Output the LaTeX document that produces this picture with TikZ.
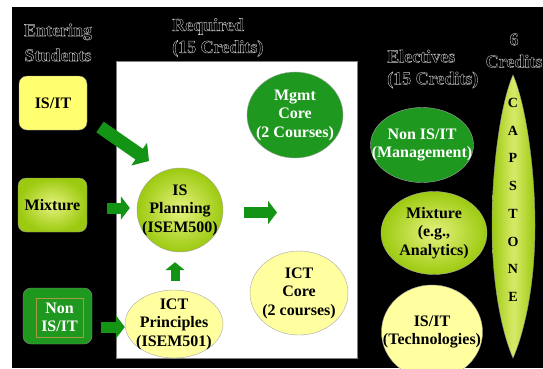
\documentclass[tikz,border=0pt]{standalone}
\usepackage{fontspec}
\setmainfont{Liberation Serif}
\usetikzlibrary{shapes.geometric,arrows.meta}

\definecolor{dkgreen}{HTML}{1E981E}
\definecolor{arrowgreen}{HTML}{149414}
\definecolor{paleyellow}{HTML}{FFFFA0}
\definecolor{brightyellow}{HTML}{FFFF70}
\definecolor{limegreen}{HTML}{9CCA10}
\definecolor{limelight}{HTML}{E6F27E}
\definecolor{frameolive}{HTML}{A89A40}

% outlined (hollow) heading text
\newcommand{\hollow}[1]{\special{pdf:literal direct 1 Tr 0.4 w 0.78 G}#1\special{pdf:literal direct 0 Tr}}

\tikzset{
  entrybox/.style={draw=black!45, rounded corners=8pt, minimum width=68pt, minimum height=54pt,
    font=\bfseries\fontsize{16}{18.5}\selectfont, align=center},
  coursetext/.style={font=\bfseries\fontsize{16}{18.5}\selectfont, align=center, inner sep=0pt},
  course/.style={ellipse, draw=black!35, inner sep=0pt, label={[coursetext]center:{#1}}},
  limeshade/.style={inner color=limelight, outer color=limegreen},
  heading/.style={font=\bfseries\fontsize{18}{22}\selectfont, inner sep=0pt},
  blockarrow/.style={arrowgreen, line width=11pt, -{Triangle[length=9pt,width=23pt]}},
  capletter/.style={font=\bfseries\fontsize{14}{16}\selectfont, inner sep=0pt}
}

\begin{document}
\begin{tikzpicture}[x=1pt,y=-1pt]

\fill[white] (0,0) rectangle (543,368);
\useasboundingbox (0,0) rectangle (543,368);
\clip (0,0) rectangle (543,368);

% background and required panel
\fill[black] (12,7) rectangle (543,368);
\filldraw[fill=white, draw=black!50, line width=0.6pt] (116,61) rectangle (357,358);

% headings
\node[heading, align=center, font=\bfseries\fontsize{18}{25}\selectfont] (entering) at (58,42.5) {\hollow{Entering}\\\hollow{Students}};
\node[heading, align=left, anchor=west] (required) at (172,37.5) {\hollow{Required}\\\hollow{(15 Credits)}};
\node[heading, align=left, anchor=west] (electives) at (387,69) {\hollow{Electives}\\\hollow{(15 Credits)}};
\node[heading, align=center] (sixcred) at (514,50.5) {\hollow{6}\\\hollow{Credits}};

% entering students
\node[entrybox, fill=brightyellow] (isit) at (53,103) {IS/IT};
\node[entrybox, limeshade, minimum width=69pt] (mix) at (52.5,205) {Mixture};
\node[entrybox, fill=dkgreen, minimum width=69pt, minimum height=56pt] (nonit) at (57.5,316) {};
\node[draw=frameolive, line width=0.4pt, text=white, minimum width=47pt, minimum height=39pt,
  font=\bfseries\fontsize{16}{18.5}\selectfont, align=center] (nonitlbl) at (59.5,317.5) {Non\\IS/IT};

% required courses
\node[course={IS\\Planning\\(ISEM500)}, limeshade, minimum width=86pt, minimum height=84pt] (plan) at (180,210) {};
\node[course={ICT\\Principles\\(ISEM501)}, fill=paleyellow, minimum width=98pt, minimum height=68pt] (prin) at (174,324) {};
\node[course={\textcolor{white}{Mgmt}\\\textcolor{white}{Core}\\\textcolor{white}{(2 Courses)}}, fill=dkgreen, minimum width=96pt, minimum height=86pt] (mgmt) at (295,115) {};
\node[course={ICT\\Core\\(2 courses)}, fill=paleyellow, minimum width=98pt, minimum height=84pt] (ictcore) at (299,293) {};

% electives
\node[course={\textcolor{white}{Non IS/IT}\\\textcolor{white}{(Management)}}, fill=dkgreen, minimum width=103pt, minimum height=75pt] (elmgmt) at (422,145) {};
\node[course={Mixture\\(e.g.,\\Analytics)}, limeshade, minimum width=106pt, minimum height=83pt] (elmix) at (434,233) {};
\node[course={\raisebox{0pt}{IS/IT}\\(Technologies)}, fill=paleyellow, minimum width=101pt, minimum height=94pt] (eltech) at (432,332) {};

% capstone
\shade[left color=limegreen, right color=limegreen, middle color=limelight!80!limegreen, draw=black!40, line width=0.4pt]
  (513,75) .. controls (500,105) and (492,170) .. (492,225)
  .. controls (492,295) and (505,340) .. (513,358)
  .. controls (521,340) and (535,295) .. (535,225)
  .. controls (535,170) and (526,105) .. (513,75) -- cycle;
\foreach \ch [count=\i from 0] in {C,A,P,S,T,O,N,E}
  \node[capletter] (cap\i) at (513,{103+27.7*\i}) {\ch};

% arrows
\coordinate (diagfrom) at (100,127);
\coordinate (diagto) at (149,161);
\coordinate (planout) at (277,212.5);
\draw[blockarrow, line width=13pt, -{Triangle[length=12pt,width=27pt]}] (diagfrom) -- (diagto);
\draw[blockarrow, shorten <=20pt, shorten >=7pt] (mix.east |- 0,208) -- (plan.west |- 0,208);
\draw[blockarrow, shorten <=9pt, shorten >=0pt] (nonit.east |- 0,327) -- (prin.west |- 0,327);
\draw[blockarrow, line width=9pt, -{Triangle[length=8pt,width=19pt]}, shorten <=9pt, shorten >=10pt] (prin.north -| 175,0) -- (plan.south -| 175,0);
\draw[blockarrow] (plan.east) ++(21,2.5) -- (planout);

\end{tikzpicture}
\end{document}
